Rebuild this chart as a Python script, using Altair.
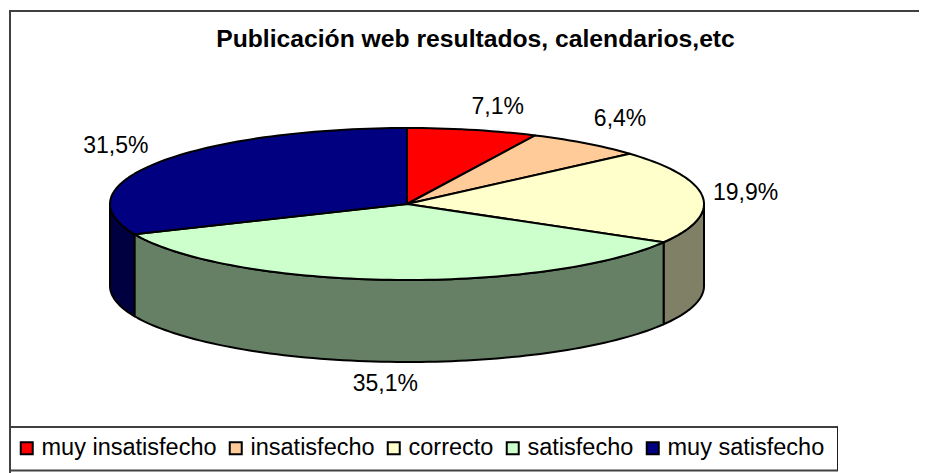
import math
import altair as alt

# ---- data
categories = ["muy insatisfecho", "insatisfecho", "correcto", "satisfecho", "muy satisfecho"]
shares = [7.1, 6.4, 19.9, 35.1, 31.5]
labels = ["7,1%", "6,4%", "19,9%", "35,1%", "31,5%"]
top_colors = ["#FF0000", "#FFCC99", "#FFFFCC", "#CCFFCC", "#000080"]
wall_colors = ["#800000", "#806650", "#808066", "#668066", "#000040"]
title_text = "Publicación web resultados, calendarios,etc"

# ---- layout of the tilted pie
CX, CY, RX, RY, DEPTH = 407, 204, 297, 76, 82
label_offsets = [(25, -23), (34, -24), (43, -4), (-4, 22), (-43, -16)]
FONT = "Liberation Sans"


def rim(t, drop=0.0):
    return [CX + RX * math.sin(t), CY - RY * math.cos(t) + drop]


def arc(t0, t1, drop=0.0):
    n = max(2, int(abs(t1 - t0) / math.radians(1.5)))
    return [rim(t0 + (t1 - t0) * i / n, drop) for i in range(n + 1)]


def feature(ring, **props):
    ring = ring + [ring[0]]
    return {"type": "Feature", "properties": props,
            "geometry": {"type": "Polygon", "coordinates": [ring]}}


tops, walls, texts = [], [], []
acc = 0.0
for name, share, label, wall, off in zip(categories, shares, labels, wall_colors, label_offsets):
    t0 = acc / 100 * 2 * math.pi
    acc += share
    t1 = acc / 100 * 2 * math.pi
    mid = (t0 + t1) / 2
    tops.append(feature([[CX, CY]] + arc(t0, t1), name=name))
    a, b = max(t0, math.pi / 2), min(t1, 3 * math.pi / 2)
    if b > a:
        walls.append(feature(arc(a, b) + arc(b, a, DEPTH), wall=wall))
    px, py = rim(mid, DEPTH if math.cos(mid) < -0.9 else 0)
    texts.append({"lon": px + off[0], "lat": py + off[1], "label": label})

projection = dict(type="identity", scale=1, translate=[-8, -8])

wall_layer = alt.Chart(alt.Data(values=walls)).mark_geoshape(
    stroke="black", strokeWidth=2, strokeJoin="round"
).encode(fill=alt.Fill("properties.wall:N", scale=None, legend=None)).project(**projection)

top_layer = alt.Chart(alt.Data(values=tops)).mark_geoshape(
    stroke="black", strokeWidth=2, strokeJoin="round"
).encode(
    color=alt.Color(
        "properties.name:N",
        scale=alt.Scale(domain=categories, range=top_colors),
        legend=alt.Legend(
            title=None, orient="none", legendX=-2, legendY=419, direction="horizontal",
            columns=5, symbolType="square", symbolSize=144, symbolStrokeColor="black",
            symbolStrokeWidth=2, labelFont=FONT, labelFontSize=23.5, labelColor="black",
            labelLimit=300, padding=9, columnPadding=7, labelOffset=3, symbolOpacity=1,
        ),
    )
).project(**projection)

text_layer = alt.Chart(alt.Data(values=texts)).mark_text(
    font=FONT, fontSize=23, color="black", align="center", baseline="middle"
).encode(longitude="lon:Q", latitude="lat:Q", text="label:N").project(**projection)

one = alt.Data(values=[{"a": 1}])


def rule(**enc):
    return alt.Chart(one).mark_rule(color="#404040", strokeWidth=2).encode(**enc)


left_rule = rule(x=alt.value(2), y=alt.value(2), y2=alt.value(465))
top_rule = rule(x=alt.value(1), x2=alt.value(911), y=alt.value(3))
box_top = rule(x=alt.value(2), x2=alt.value(830), y=alt.value(419))
box_bottom = rule(x=alt.value(2), x2=alt.value(830), y=alt.value(462.5))
box_right = alt.Chart(one).mark_rule(color="#202020", strokeWidth=1).encode(
    x=alt.value(829.5), y=alt.value(419), y2=alt.value(462.5))

chart = (
    alt.layer(wall_layer, top_layer, text_layer, left_rule, top_rule, box_top, box_bottom, box_right)
    .resolve_scale(color="independent", fill="independent")
    .properties(
        width=911, height=465, padding=0, autosize="none", background="white",
        title=alt.TitleParams(title_text, anchor="middle", frame="group", font=FONT,
                              fontSize=24.7, fontWeight="bold", color="black",
                              dx=12, dy=44, offset=0),
    )
    .configure_view(stroke=None)
)

chart.save("out.html", embed_options={"renderer": "svg", "actions": False})
